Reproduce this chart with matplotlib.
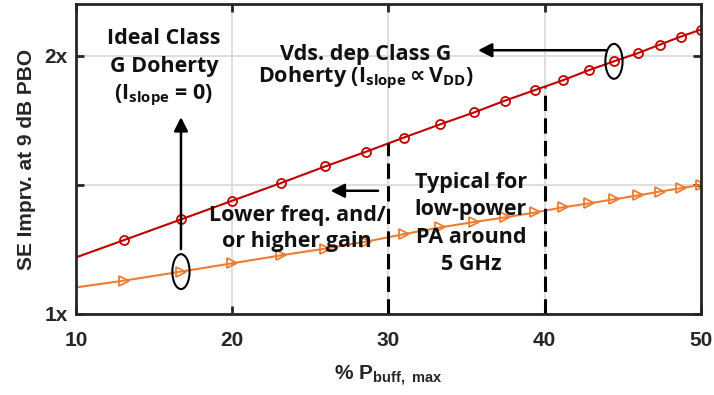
import matplotlib
matplotlib.use("Agg")
import matplotlib.pyplot as plt
import numpy as np
from matplotlib.patches import Ellipse

# % P_buff,max sample points (first point carries no marker)
pbuff = [10.0, 13.07, 16.72, 19.98, 23.12, 25.94, 28.56, 30.99, 33.30, 35.47,
         37.46, 39.38, 41.17, 42.83, 44.43, 45.97, 47.38, 48.72, 50.0]
# SE improvement at 9 dB PBO
se_vds_dep = [1.219, 1.286, 1.366, 1.438, 1.507, 1.571, 1.628, 1.683, 1.734, 1.780,
              1.826, 1.867, 1.905, 1.944, 1.978, 2.010, 2.043, 2.074, 2.101]
se_ideal = [1.103, 1.129, 1.164, 1.196, 1.227, 1.253, 1.280, 1.309, 1.335, 1.356,
            1.374, 1.393, 1.413, 1.428, 1.444, 1.459, 1.474, 1.487, 1.500]

x_ticks = [10, 20, 30, 40, 50]
y_ticks = [1.0, 1.5, 2.0]
y_tick_labels = ["1x", "", "2x"]
typical_region = [30, 40]

RED = "#C00000"
ORANGE = "#ED7D31"
AXC = "#262626"
ANN_FONT = ["Open Sans", "DejaVu Sans"]

plt.rcParams["mathtext.fontset"] = "custom"
plt.rcParams["mathtext.rm"] = "Open Sans:bold"
plt.rcParams["mathtext.bf"] = "Liberation Sans:bold"
plt.rcParams["mathtext.sf"] = "DejaVu Sans:bold"

fig = plt.figure(figsize=(7.14, 3.95), dpi=100)
ax = fig.add_axes([0.1064, 0.2051, 0.8754, 0.7848])

ax.set_xlim(10, 50)
ax.set_ylim(1.0, 2.2)
ax.set_xticks(x_ticks)
ax.set_yticks(y_ticks)
ax.set_yticklabels(y_tick_labels)
ax.grid(True, color="#DCDCDC", lw=1.3, zorder=0)
ax.set_axisbelow(True)

for s in ax.spines.values():
    s.set_linewidth(2.0)
    s.set_color(AXC)
    s.set_zorder(5)
ax.tick_params(direction="in", length=5.5, width=2.0, color=AXC,
               top=True, right=True, labelsize=15, labelcolor=AXC)
ax.tick_params(axis="x", pad=12)
ax.tick_params(axis="y", pad=6)
for lab in ax.get_xticklabels() + ax.get_yticklabels():
    lab.set_fontfamily("Liberation Sans")
    lab.set_fontweight("bold")

ax.plot(pbuff, se_vds_dep, color=RED, lw=1.5, marker="o", ms=6.5,
        mfc="none", mec=RED, mew=1.3, markevery=list(range(1, len(pbuff))),
        zorder=3)
ax.plot(pbuff, se_ideal, color=ORANGE, lw=1.5, marker=">", ms=7.5,
        mfc="none", mec=ORANGE, mew=1.3, markevery=list(range(1, len(pbuff))),
        zorder=3)

# boundaries of the typical low-power 5 GHz region
for xb in typical_region:
    ax.plot([xb, xb], [1.0, np.interp(xb, pbuff, se_vds_dep)], color="black",
            lw=2.2, linestyle=(0, (5.0, 2.4)), zorder=4)

# ellipses around the highlighted points
i_vds = 14
i_ideal = 2
for xi, yi in [(pbuff[i_vds], se_vds_dep[i_vds]), (pbuff[i_ideal], se_ideal[i_ideal])]:
    ax.add_patch(Ellipse((xi, yi), width=1.1, height=0.135, fill=False,
                         ec="black", lw=1.5, zorder=6))

arrow_kw = dict(arrowstyle="-|>,head_length=0.55,head_width=0.28",
                color="black", lw=1.8, shrinkA=0, shrinkB=0, mutation_scale=15)
ax.annotate("", xy=(35.73, 2.021), xytext=(43.96, 2.021), arrowprops=arrow_kw,
            zorder=6)
ax.annotate("", xy=(16.72, 1.762), xytext=(16.72, 1.251), arrowprops=arrow_kw,
            zorder=6)
ax.annotate("", xy=(26.3, 1.477), xytext=(29.33, 1.477), arrowprops=arrow_kw,
            zorder=6)

tkw = dict(ha="center", va="baseline", fontsize=15.5, fontweight="bold",
           family=ANN_FONT, color="#111111", zorder=7)
ax.text(15.63, 2.044, "Ideal Class", **tkw)
ax.text(15.63, 1.937, "G Doherty", **tkw)
ax.text(15.63, 1.831, r"($\mathrm{I}_{\mathrm{slope}}$ = 0)", **tkw)

ax.text(28.56, 1.983, "Vds. dep Class G", **tkw)
ax.text(28.56, 1.898,
        r"Doherty ($\mathrm{I}_{\mathrm{slope}}\,\mathsf{∝}\,\mathrm{V}_{\mathrm{DD}}$)",
        **tkw)

ax.text(24.14, 1.361, "Lower freq. and/", **tkw)
ax.text(24.14, 1.260, "or higher gain", **tkw)

ax.text(35.28, 1.486, "Typical for", **tkw)
ax.text(35.28, 1.383, "low-power", **tkw)
ax.text(35.28, 1.273, "PA around", **tkw)
ax.text(35.28, 1.170, "5 GHz", **tkw)

ax.set_ylabel("SE Imprv. at 9 dB PBO", fontsize=15, fontweight="bold",
              family="Liberation Sans", color=AXC)
ax.yaxis.set_label_coords(-0.064, 0.5)
ax.set_xlabel(r"% P$_{\mathbf{buff,\ max}}$", fontsize=15, fontweight="bold",
              family="Liberation Sans", color=AXC, labelpad=10)

fig.savefig("out.png", dpi=100)
